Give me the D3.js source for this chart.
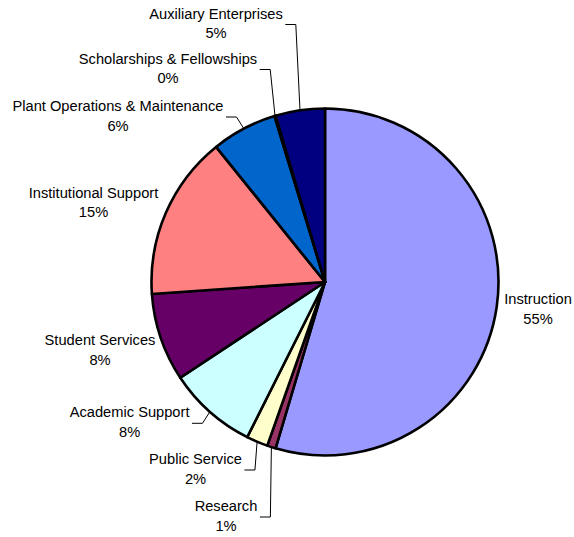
<!DOCTYPE html>
<html>
<head>
<meta charset="utf-8">
<script src="https://cdn.jsdelivr.net/npm/d3@7"></script>
<style>
  html, body { margin: 0; padding: 0; background: #fff; }
  svg { display: block; }
  text { font-family: "Liberation Sans", Arial, sans-serif; font-size: 14.67px; fill: #000; }
</style>
</head>
<body>
<svg id="chart" width="574" height="537"></svg>
<script>
// ---- data ----
const categories = [
  "Instruction", "Research", "Public Service", "Academic Support",
  "Student Services", "Institutional Support", "Plant Operations & Maintenance",
  "Scholarships & Fellowships", "Auxiliary Enterprises"
];
const values = [54.6, 0.8, 2.0, 8.3, 8.2, 15.3, 6.1, 0.1, 4.6];
const colors = ["#9999FF", "#993366", "#FFFFCC", "#CCFFFF", "#660066",
                "#FF8080", "#0066CC", "#CCCCFF", "#000080"];

// ---- layout (label placement, not data) ----
const labelLayout = {
  "Instruction":                    { x: 538,   y: 304,   leader: false },
  "Research":                       { x: 226,   y: 511,   leader: true },
  "Public Service":                 { x: 195.5, y: 464,   leader: true },
  "Academic Support":               { x: 129.6, y: 417.3, leader: true },
  "Student Services":               { x: 100,   y: 345.3, leader: false },
  "Institutional Support":          { x: 93.5,  y: 197.5, leader: false },
  "Plant Operations & Maintenance": { x: 118,   y: 111,   leader: true },
  "Scholarships & Fellowships":     { x: 168,   y: 63.5,  leader: true },
  "Auxiliary Enterprises":          { x: 216,   y: 18.5,  leader: true }
};

const cx = 325, cy = 282, r = 173.5;
const lineGap = 19.7;

const svg = d3.select("#chart");
const total = d3.sum(values);
const rows = categories.map((c, i) => ({ name: c, value: values[i], color: colors[i] }));

const pie = d3.pie().value(d => d.value).sort(null).startAngle(0).endAngle(2 * Math.PI);
const arc = d3.arc().innerRadius(0).outerRadius(r);
const arcs = pie(rows);

const g = svg.append("g").attr("transform", `translate(${cx},${cy})`);
g.selectAll("path.slice")
  .data(arcs)
  .join("path")
  .attr("class", "slice")
  .attr("d", arc)
  .attr("fill", d => d.data.color)
  .attr("stroke", "#000")
  .attr("stroke-width", 2.6)
  .attr("stroke-linejoin", "round");

// labels
const lg = svg.append("g");
arcs.forEach(a => {
  const L = labelLayout[a.data.name];
  const pct = Math.round(a.data.value / total * 100) + "%";
  const t = lg.append("text").attr("text-anchor", "middle");
  t.append("tspan").attr("x", L.x).attr("y", L.y).text(a.data.name);
  t.append("tspan").attr("x", L.x).attr("y", L.y + lineGap).text(pct);

  if (L.leader) {
    const w = t.select("tspan").node().getComputedTextLength();
    const right = L.x + w / 2;
    const ly = L.y + 6;
    const mid = (a.startAngle + a.endAngle) / 2;
    const px = cx + r * Math.sin(mid);
    const py = cy - r * Math.cos(mid);
    lg.append("path")
      .attr("d", `M${right + 2.5},${ly}H${right + 13}L${px},${py}`)
      .attr("fill", "none")
      .attr("stroke", "#000")
      .attr("stroke-width", 1);
  }
});
</script>
</body>
</html>
